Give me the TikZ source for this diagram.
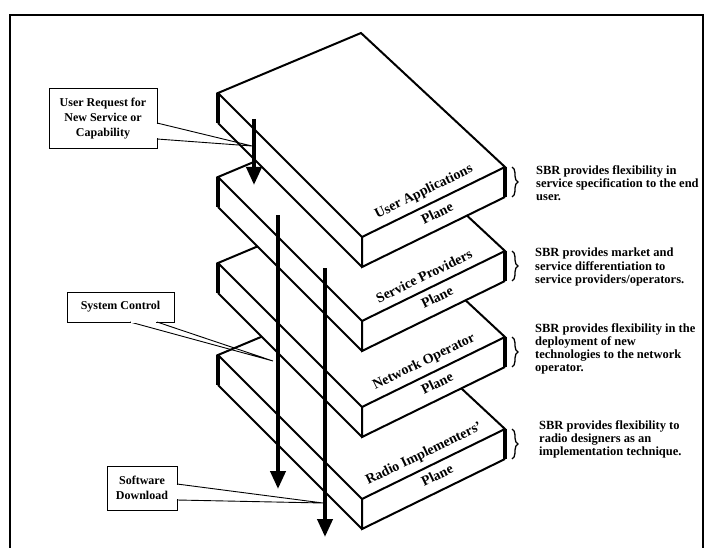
\documentclass[tikz,border=0pt]{standalone}
\usepackage{fontspec}
\setmainfont{Liberation Serif}
\usetikzlibrary{arrows.meta,decorations.pathreplacing}
\newcommand\myslab[4]{%
  \begin{scope}[shift={(0,#1)}]
    \coordinate (#2T) at (361,33);
    \coordinate (#2L) at (218,93);
    \coordinate (#2R) at (505,167);
    \coordinate (#2F) at (362,237);
    \coordinate (#2Lb) at (218,123);
    \coordinate (#2Rb) at (505,197);
    \coordinate (#2Fb) at (362,267);
    \fill[white] (#2T) -- (#2R) -- (#2Rb) -- (#2Fb) -- (#2Lb) -- (#2L) -- cycle;
    \draw[edge] (#2L) -- (#2T) -- (#2R) -- (#2F) -- cycle;
    \draw[edge] (#2F) -- (#2Fb) -- (#2Rb);
    \draw[edge] (#2Fb) -- (#2Lb);
    \draw[thickedge] (#2L) -- (#2Lb);
    \draw[thickedge] (#2R) -- (#2Rb);
    \node[planelabel] (#2name) at (424,192) {#3};
    \node[planelabel] (#2plane) at (437,213) {#4};
  \end{scope}}
\begin{document}
\begin{tikzpicture}[x=1pt,y=-1pt,
  edge/.style={line width=2pt, line join=miter},
  thickedge/.style={line width=4pt},
  flow/.style={line width=4pt, -{Triangle[width=15pt,length=18pt]}},
  callbox/.style={draw, fill=white, line width=1pt, font=\bfseries\fontsize{12}{15}\selectfont, align=center, inner sep=0pt},
  wedge/.style={line width=0.9pt},
  note/.style={font=\bfseries\fontsize{12.5}{13.2}\selectfont, align=left, anchor=north west, inner sep=0pt},
  planelabel/.style={font=\bfseries\fontsize{14}{16}\selectfont, rotate=26, inner sep=0pt},
  sbrace/.style={decorate, decoration={brace,amplitude=6pt}, line width=1.3pt}]
\useasboundingbox (0,0) rectangle (717,548);
\draw[line width=2pt] (10,570) -- (10,15) -- (703,15) -- (703,570);

\myslab{262}{d}{Radio Implementers’}{Plane}
\myslab{170}{c}{Network Operator}{Plane}
\myslab{84}{b}{Service Providers}{Plane}
\myslab{0}{a}{User Applications}{Plane}

% braces
\draw[sbrace] (512,167) -- (512,197);
\draw[sbrace] (512,251) -- (512,281);
\draw[sbrace] (512,337) -- (512,367);
\draw[sbrace] (512,429) -- (512,459);

% notes
\node[note] (n1) at (536,165) {SBR provides flexibility in\\service specification to the end\\user.};
\node[note] (n2) at (535,248) {SBR provides market and\\service differentiation to\\service providers/operators.};
\node[note] (n3) at (535,323) {SBR provides flexibility in the\\deployment of new\\technologies to the network\\operator.};
\node[note] (n4) at (539,420) {SBR provides flexibility to\\radio designers as an\\implementation technique.};

% flow arrows
\coordinate (f1s) at (254,119); \coordinate (f1e) at (254,185);
\coordinate (f2s) at (278,215); \coordinate (f2e) at (278,489);
\coordinate (f3s) at (325,268); \coordinate (f3e) at (325,537);
\draw[flow] (f1s) -- (f1e);
\draw[flow] (f2s) -- (f2e);
\draw[flow] (f3s) -- (f3e);

% callouts
\node[callbox, minimum width=108pt, minimum height=60pt] (ur) at (103,119) {User Request for\\New Service or\\Capability};
\coordinate (urtip) at (252,146);
\draw[wedge] (157,123) -- (urtip) -- (157,139);
\draw[white, line width=1.2pt] (157,124) -- (157,138);

\node[callbox, minimum width=107pt, minimum height=30pt] (sc) at (120.5,307) {System Control};
\coordinate (sctip) at (273,361);
\draw[wedge] (130,322) -- (sctip) -- (157,322);
\draw[white, line width=1.2pt] (131,322) -- (156,322);

\node[callbox, minimum width=70pt, minimum height=44pt] (sd) at (142,488) {Software\\Download};
\coordinate (sdtip) at (323,503);
\draw[wedge] (177,484) -- (sdtip) -- (177,500);
\draw[white, line width=1.2pt] (177,485) -- (177,499);
\end{tikzpicture}
\end{document}
